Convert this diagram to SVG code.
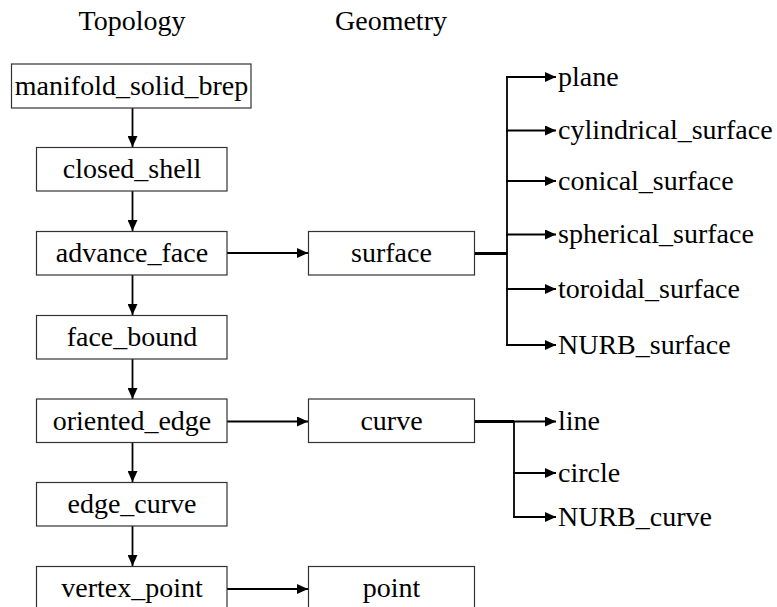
<svg xmlns="http://www.w3.org/2000/svg" width="777" height="607" viewBox="0 0 777 607">
<defs>
<marker id="ah" markerWidth="11" markerHeight="10" refX="11" refY="5" orient="auto" markerUnits="userSpaceOnUse">
<path d="M0,0 L11,5 L0,10 Z" fill="#000"/>
</marker>
<style>
.box{fill:#fff;stroke:#333;stroke-width:1.2}
.t{font-family:"Liberation Serif","Times New Roman",serif;font-size:28px;fill:#000}
.c{text-anchor:middle}
.ln{stroke:#000;stroke-width:1.8;fill:none}
.th{stroke:#000;stroke-width:3;fill:none}
</style>
</defs>
<rect width="777" height="607" fill="#fff"/>
<text class="t c" x="132" y="30">Topology</text>
<text class="t c" x="391" y="30">Geometry</text>

<g id="connectors">
<line class="ln" x1="132.5" y1="108" x2="132.5" y2="147" marker-end="url(#ah)"/>
<line class="ln" x1="132.5" y1="191" x2="132.5" y2="231" marker-end="url(#ah)"/>
<line class="ln" x1="132.5" y1="275" x2="132.5" y2="315" marker-end="url(#ah)"/>
<line class="ln" x1="132.5" y1="359" x2="132.5" y2="399" marker-end="url(#ah)"/>
<line class="ln" x1="132.5" y1="442" x2="132.5" y2="482" marker-end="url(#ah)"/>
<line class="ln" x1="132.5" y1="526" x2="132.5" y2="566" marker-end="url(#ah)"/>
<line class="ln" x1="227" y1="253" x2="308" y2="253" marker-end="url(#ah)"/>
<line class="ln" x1="227" y1="421.5" x2="308" y2="421.5" marker-end="url(#ah)"/>
<line class="ln" x1="227" y1="589" x2="308" y2="589" marker-end="url(#ah)"/>
<line class="th" x1="475" y1="253.5" x2="507" y2="253.5"/>
<line class="ln" x1="507" y1="76.5" x2="507" y2="345.5"/>
<line class="ln" x1="506" y1="77" x2="556" y2="77" marker-end="url(#ah)"/>
<line class="ln" x1="506" y1="130.5" x2="556" y2="130.5" marker-end="url(#ah)"/>
<line class="ln" x1="506" y1="181" x2="556" y2="181" marker-end="url(#ah)"/>
<line class="ln" x1="506" y1="234.5" x2="556" y2="234.5" marker-end="url(#ah)"/>
<line class="ln" x1="506" y1="289" x2="556" y2="289" marker-end="url(#ah)"/>
<line class="ln" x1="506" y1="345" x2="556" y2="345" marker-end="url(#ah)"/>
<line class="th" x1="475" y1="421.5" x2="514" y2="421.5"/>
<line class="ln" x1="514" y1="421" x2="514" y2="517"/>
<line class="ln" x1="513" y1="421.5" x2="556" y2="421.5" marker-end="url(#ah)"/>
<line class="ln" x1="513" y1="473" x2="556" y2="473" marker-end="url(#ah)"/>
<line class="ln" x1="513" y1="517" x2="556" y2="517" marker-end="url(#ah)"/>
</g>

<g id="manifold_solid_brep"><rect class="box" x="11.5" y="64" width="239.5" height="44"/><text class="t c" x="131.5" y="95">manifold_solid_brep</text></g>
<g id="closed_shell"><rect class="box" x="36.5" y="147.5" width="190.5" height="43.5"/><text class="t c" x="132" y="178">closed_shell</text></g>
<g id="advance_face"><rect class="box" x="36.5" y="231.5" width="190.5" height="43.5"/><text class="t c" x="132" y="262">advance_face</text></g>
<g id="face_bound"><rect class="box" x="36.5" y="315.5" width="190.5" height="43.5"/><text class="t c" x="132" y="346">face_bound</text></g>
<g id="oriented_edge"><rect class="box" x="36.5" y="399" width="190.5" height="43.5"/><text class="t c" x="132" y="430">oriented_edge</text></g>
<g id="edge_curve"><rect class="box" x="36.5" y="482.5" width="190.5" height="43.5"/><text class="t c" x="132" y="513">edge_curve</text></g>
<g id="vertex_point"><rect class="box" x="36.5" y="566.5" width="190.5" height="43.5"/><text class="t c" x="132" y="597">vertex_point</text></g>

<g id="surface"><rect class="box" x="308.5" y="231.5" width="166" height="43.5"/><text class="t c" x="391.5" y="262">surface</text></g>
<g id="curve"><rect class="box" x="308.5" y="399" width="166" height="43.5"/><text class="t c" x="391.5" y="430">curve</text></g>
<g id="point"><rect class="box" x="308.5" y="566.5" width="166" height="43.5"/><text class="t c" x="391.5" y="597">point</text></g>

<g id="plane"><text class="t" x="558" y="86">plane</text></g>
<g id="cylindrical_surface"><text class="t" x="558" y="139">cylindrical_surface</text></g>
<g id="conical_surface"><text class="t" x="558" y="190">conical_surface</text></g>
<g id="spherical_surface"><text class="t" x="558" y="243">spherical_surface</text></g>
<g id="toroidal_surface"><text class="t" x="558" y="298">toroidal_surface</text></g>
<g id="NURB_surface"><text class="t" x="558" y="354">NURB_surface</text></g>
<g id="line"><text class="t" x="558" y="430">line</text></g>
<g id="circle"><text class="t" x="558" y="482">circle</text></g>
<g id="NURB_curve"><text class="t" x="558" y="526">NURB_curve</text></g>
</svg>
